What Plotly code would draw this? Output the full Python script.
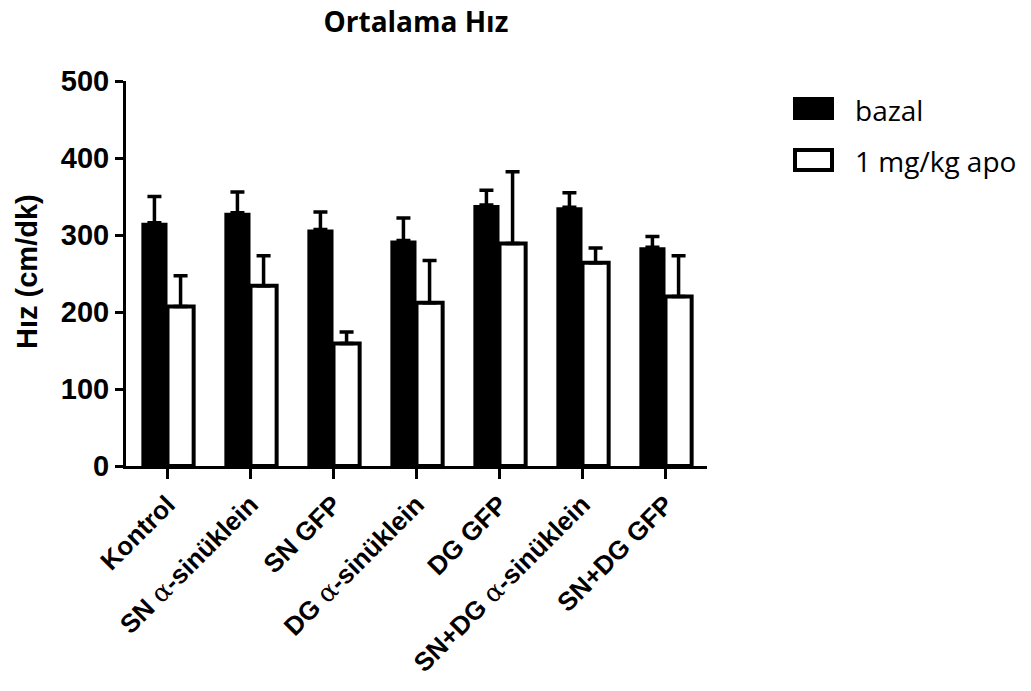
import plotly.graph_objects as go

ALPHA = "<span style=\"font-family:'DejaVu Serif';font-weight:normal\">α</span>"
categories = [
    "Kontrol",
    f"SN {ALPHA}-sinüklein",
    "SN GFP",
    f"DG {ALPHA}-sinüklein",
    "DG GFP",
    f"SN+DG {ALPHA}-sinüklein",
    "SN+DG GFP",
]
bazal = [316, 329, 307, 293, 339, 336, 284]
bazal_err = [34, 27, 23, 29, 19, 19, 14]
apo = [207, 234, 159, 212, 289, 264, 220]
apo_err = [40, 39, 15, 55, 93, 19, 53]
series_names = ["bazal", "1 mg/kg apo"]
yticks = [0, 100, 200, 300, 400, 500]

SANS = "Liberation Sans, Arial, sans-serif"

fig = go.Figure()
fig.add_trace(go.Bar(
    x=categories, y=bazal, name=series_names[0],
    marker=dict(color="black", line=dict(width=0)),
    error_y=dict(type="data", array=bazal_err, arrayminus=[0] * len(bazal),
                 symmetric=False, color="black", thickness=3.5, width=7),
))
fig.add_trace(go.Bar(
    x=categories, y=apo, name=series_names[1],
    marker=dict(color="white", line=dict(width=4, color="black")),
    error_y=dict(type="data", array=apo_err, arrayminus=[0] * len(apo),
                 symmetric=False, color="black", thickness=3.5, width=7),
))

fig.update_layout(
    width=1031, height=691,
    margin=dict(l=126, r=324, t=81, b=225, pad=0, autoexpand=False),
    paper_bgcolor="white", plot_bgcolor="white",
    barmode="group", bargap=0.37, bargroupgap=0,
    showlegend=False,
    title=dict(text="<b>Ortalama Hız</b>", x=0.499, xref="paper", xanchor="center",
               y=1 - 22 / 691, yref="container", yanchor="middle",
               font=dict(family="Open Sans", size=28, color="black")),
    xaxis=dict(showline=True, linecolor="black", linewidth=3, automargin=False,
               ticks="outside", ticklen=10, tickwidth=3, tickcolor="black",
               tickangle=-45, tickfont=dict(family=SANS, size=26, color="black"),
               showgrid=False,
               tickprefix="<b>", ticksuffix="</b>", range=[-0.5, 6.5]),
    yaxis=dict(showline=True, linecolor="black", linewidth=3, automargin=False,
               ticks="outside", ticklen=8, tickwidth=3, tickcolor="black",
               tickvals=yticks, ticktext=[f"<b>{v}</b>" for v in yticks],
               tickfont=dict(family=SANS, size=29, color="black"),
               range=[0, 500], showgrid=False, zeroline=False),
)

# Y-axis title
fig.add_annotation(text="<b>Hız (cm/dk)</b>", textangle=-90, xref="paper", yref="paper",
                   x=(27 - 126) / 581, y=(466 - 272) / 385, showarrow=False,
                   xanchor="center", yanchor="middle",
                   font=dict(family=SANS, size=29, color="black"))

# Custom legend
def px_x(p):
    return (p - 126) / 581

def px_y(p):
    return (466 - p) / 385

fig.add_shape(type="rect", xref="paper", yref="paper",
              x0=px_x(793), x1=px_x(834), y0=px_y(120), y1=px_y(97),
              fillcolor="black", line=dict(width=0))
fig.add_shape(type="rect", xref="paper", yref="paper",
              x0=px_x(795), x1=px_x(832), y0=px_y(170), y1=px_y(150),
              fillcolor="white", line=dict(width=4, color="black"))
fig.add_annotation(text=series_names[0], xref="paper", yref="paper",
                   x=px_x(853), y=px_y(110), xanchor="left", yanchor="middle",
                   showarrow=False, font=dict(family="Open Sans", size=28, color="black"))
fig.add_annotation(text=series_names[1], xref="paper", yref="paper",
                   x=px_x(853), y=px_y(161), xanchor="left", yanchor="middle",
                   showarrow=False, font=dict(family="Open Sans", size=28, color="black"))

fig.write_html("out.html")
